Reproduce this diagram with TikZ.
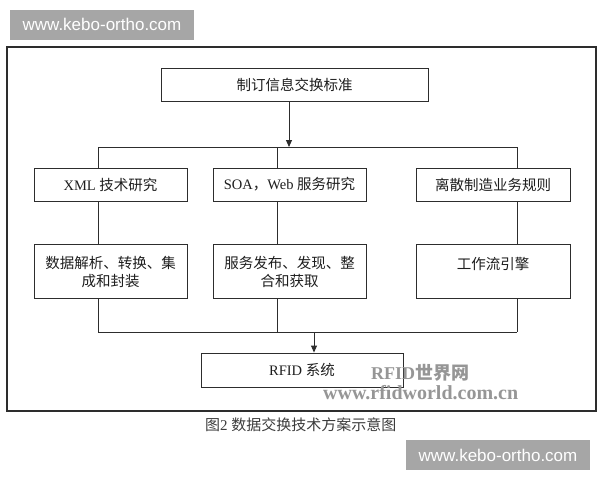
\documentclass[tikz,border=0pt]{standalone}
\usepackage{fontspec}
\setmainfont{Liberation Serif}
\newfontfamily\cjk{Noto Sans CJK SC}
\newfontfamily\wmfont{Liberation Sans}
\usetikzlibrary{arrows.meta, positioning}
\definecolor{kb_line}{RGB}{45, 45, 45}
\definecolor{kb_text}{RGB}{30, 30, 30}
\definecolor{kb_mark}{RGB}{166, 166, 166}
\definecolor{kb_caption}{RGB}{60, 60, 60}
\definecolor{kb_ghost}{RGB}{150, 150, 150}

\begin{document}
\begin{tikzpicture}[
        x=1pt, y=-1pt,
        box/.style={draw=kb_line, line width=0.9pt, fill=white,
                    inner sep=0pt, minimum width=153pt, minimum height=33pt,
                    align=center, text=kb_text,
                    font=\fontsize{14.5}{18}\selectfont},
        tallbox/.style={box, minimum height=54pt},
        wire/.style={draw=kb_line, line width=0.9pt},
        arr/.style={wire, -{Triangle[length=7pt, width=6pt]}},
        sitemark/.style={fill=kb_mark, text=white, inner sep=0pt,
                     minimum width=184pt, minimum height=30pt,
                     font=\wmfont\fontsize{17}{17}\selectfont},
        ghost/.style={text=kb_ghost, inner sep=0pt, anchor=west,
                      font=\bfseries\fontsize{18}{18}\selectfont},
      ]
        \useasboundingbox (0,0) rectangle (600,480);
        \fill[white] (0,0) rectangle (600,480);
        % site marks
        \node[sitemark] (markA) at (102,24.5) {www.kebo-ortho.com};
        \node[sitemark] (markB) at (498,455) {www.kebo-ortho.com};
        % frame
        \draw[kb_line, line width=1.4pt] (7,47) rectangle (596,411);
        % boxes
        \node[box, minimum width=267pt] (std) at (294.5,84.5)
          {\cjk 制订信息交换标准};
        \node[box] (xml)  at (110.5,184.5) {XML {\cjk 技术研究}};
        \node[box] (soa)  at (289.5,184.5) {SOA{\cjk ，}Web {\cjk 服务研究}};
        \node[box, minimum width=154pt] (rule) at (493,184.5)
          {\cjk 离散制造业务规则};
        \node[tallbox, below=43pt of xml] (parse)
          {\cjk 数据解析、转换、集\\\cjk 成和封装};
        \node[tallbox, below=43pt of soa] (serve)
          {\cjk 服务发布、发现、整\\\cjk 合和获取};
        \node[tallbox, minimum width=154pt, below=43pt of rule] (flow)
          {\cjk 工作流引擎\\\mbox{}};
        \node[box, minimum width=202pt, minimum height=34pt] (rfid)
          at (302,370) {RFID {\cjk 系统}};
        % bus lines
        \coordinate (busTop)  at (289,147);
        \coordinate (busTopL) at (98,147);
        \coordinate (busTopR) at (517,147);
        \coordinate (busBotL) at (98,332);
        \coordinate (busBotR) at (517,332);
        \coordinate (busDrop) at (314,332);
        \coordinate (colA) at (98,0);
        \coordinate (colB) at (277,0);
        \coordinate (colC) at (517,0);
        \draw[arr] (std.south -| busTop) -- (busTop);
        \draw[wire] (busTopL) -- (busTopR);
        \foreach \up/\dn/\col in {xml/parse/colA, soa/serve/colB, rule/flow/colC}{
          \draw[wire] (busTopL -| \col) -- (\up.north -| \col);
          \draw[wire] (\up.south -| \col) -- (\dn.north -| \col);
          \draw[wire] (\dn.south -| \col) -- (busBotL -| \col);
        }
        \draw[wire] (busBotL) -- (busBotR);
        \draw[arr] (busDrop) -- (rfid.north -| busDrop);
        % overlay marks
        \node[ghost] (wmA) at (371,373) {RFID{\cjk 世界网}};
        \node[ghost, font=\bfseries\fontsize{20}{20}\selectfont] (wmB)
          at (323,393) {www.rfidworld.com.cn};
        % caption
        \node[anchor=west, inner sep=0pt, text=kb_caption,
              font=\fontsize{15}{15}\selectfont] (cap) at (205,425)
          {{\cjk 图}2\ {\cjk 数据交换技术方案示意图}};
      \end{tikzpicture}
\end{document}
